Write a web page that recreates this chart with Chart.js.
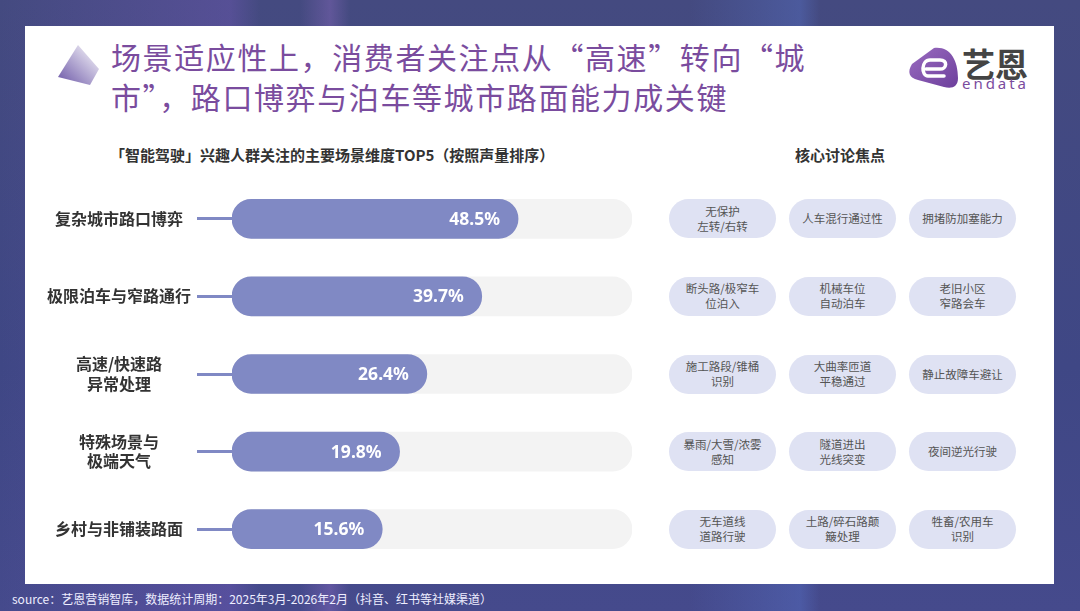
<!DOCTYPE html>
<html lang="zh">
<head>
<meta charset="UTF-8">
<script src="https://cdn.jsdelivr.net/npm/chart.js@4.4.0/dist/chart.umd.min.js"></script>
<title>场景维度TOP5</title>
<style>
    html, body { margin: 0; padding: 0; }
    body {
        width: 1080px; height: 611px; overflow: hidden; position: relative;
        font-family: "Noto Sans CJK SC", "Noto Sans", sans-serif;
        background:
            linear-gradient(90deg, rgba(255,255,255,0) 0, rgba(120,90,190,0.35) 230px, rgba(255,255,255,0) 260px,
                rgba(255,255,255,0) 300px, rgba(150,110,200,0.35) 330px, rgba(255,255,255,0) 350px,
                rgba(255,255,255,0) 690px, rgba(90,120,210,0.35) 800px, rgba(255,255,255,0) 820px),
            linear-gradient(180deg, #444a80 0%, #3f4785 60%, #454a8c 100%);
    }
    .card { position: absolute; left: 25px; top: 26px; width: 1029px; height: 558px; background: #fff; }
    .title {
        position: absolute; left: 111px; top: 36px; margin: 0;
        font-size: 30px; line-height: 40px; font-weight: 400; letter-spacing: 1.6px; color: #7a4c9e;
    }
    .sub { position: absolute; top: 144px; font-size: 15px; font-weight: 700; color: #333; white-space: nowrap; }
    .pill {
        position: absolute; width: 107px; height: 39px; border-radius: 20px; background: #dfe2f3;
        display: flex; align-items: center; justify-content: center; text-align: center;
        font-size: 11.5px; line-height: 15px; color: #555;
    }
    .source { position: absolute; left: 12px; top: 590px; font-size: 12px; color: #eef; white-space: nowrap; }
    #wrap { position: absolute; left: 0; top: 180px; width: 640px; height: 388px; }
</style>
</head>
<body>
<div class="card"></div>
<svg style="position:absolute;left:0;top:0" width="1080" height="120">
    <defs>
        <linearGradient id="gem" x1="0" y1="1" x2="1" y2="0">
            <stop offset="0" stop-color="#6a55a6"/>
            <stop offset="1" stop-color="#ffffff"/>
        </linearGradient>
        <linearGradient id="logo" x1="0" y1="0" x2="1" y2="1">
            <stop offset="0" stop-color="#9a6cc0"/>
            <stop offset="1" stop-color="#6d3f9c"/>
        </linearGradient>
    </defs>
    <polygon points="78,45 99,69 90,85 58,77" fill="url(#gem)"/>
    <path d="M934,48 C950,46 958,60 958,78 C958,87 952,89 944,87 L918,80 C909,78 907,72 912,64 Z" fill="url(#logo)"/>
    <path d="M944,76 L928,76 C921,76 921,60 930,60 L940,60 C948,60 947,69 940,69 L926,69" fill="none" stroke="#fff" stroke-width="3.5" stroke-linecap="round"/>
    <text x="962" y="77" font-size="33" font-weight="700" fill="#444" font-family="Noto Sans CJK SC">艺恩</text>
    <text x="962" y="89" font-size="15" fill="#7a4c9e" font-family="Noto Sans" textLength="64">endata</text>
</svg>
<h1 class="title">场景适应性上，消费者关注点从“高速”转向“城<br>市”，路口博弈与泊车等城市路面能力成关键</h1>
<div class="sub" style="left:110px">「智能驾驶」兴趣人群关注的主要场景维度TOP5（按照声量排序）</div>
<div class="sub" style="left:795px">核心讨论焦点</div>
<div id="wrap"><canvas id="container"></canvas></div>
<div id="pills"></div>
<div class="source">source：艺恩营销智库，数据统计周期：2025年3月-2026年2月（抖音、红书等社媒渠道）</div>

<script>
    const scenes = ['复杂城市路口博弈', '极限泊车与窄路通行', ['高速/快速路', '异常处理'], ['特殊场景与', '极端天气'], '乡村与非铺装路面'];
    const shares = [48.5, 39.7, 26.4, 19.8, 15.6];
    const focusCol1 = [['无保护', '左转/右转'], ['断头路/极窄车', '位泊入'], ['施工路段/锥桶', '识别'], ['暴雨/大雪/浓雾', '感知'], ['无车道线', '道路行驶']];
    const focusCol2 = [['人车混行通过性'], ['机械车位', '自动泊车'], ['大曲率匝道', '平稳通过'], ['隧道进出', '光线突变'], ['土路/碎石路颠', '簸处理']];
    const focusCol3 = [['拥堵防加塞能力'], ['老旧小区', '窄路会车'], ['静止故障车避让'], ['夜间逆光行驶'], ['牲畜/农用车', '识别']];

    const BAR_BASE = -20.8;
    const TRACK_END = 76.1;
    const barColor = '#8089c4';

    const valueLabels = {
        id: 'valueLabels',
        afterDatasetsDraw(chart) {
            const ctx = chart.ctx;
            const meta = chart.getDatasetMeta(1);
            ctx.save();
            ctx.fillStyle = '#fff';
            ctx.font = 'bold 17.5px "Noto Sans", sans-serif';
            ctx.textAlign = 'right';
            ctx.textBaseline = 'middle';
            meta.data.forEach((bar, i) => {
                ctx.fillText(shares[i].toFixed(1) + '%', bar.x - 18, bar.y + 1);
            });
            ctx.restore();
        }
    };

    const ctx = document.getElementById('container').getContext('2d');
    const chart = new Chart(ctx, {
        type: 'bar',
        data: {
            labels: scenes,
            datasets: [{
                data: scenes.map(() => TRACK_END),
                base: BAR_BASE,
                backgroundColor: '#f3f3f3',
                borderRadius: 20,
                borderSkipped: false,
                barThickness: 39,
                grouped: false,
                order: 2
            }, {
                data: shares,
                base: BAR_BASE,
                backgroundColor: barColor,
                borderRadius: 20,
                borderSkipped: false,
                barThickness: 39,
                grouped: false,
                order: 1
            }]
        },
        options: {
            indexAxis: 'y',
            responsive: true,
            maintainAspectRatio: false,
            animation: false,
            layout: { padding: { left: 0, right: 8, top: 0, bottom: 0 } },
            plugins: { legend: { display: false }, tooltip: { enabled: false } },
            scales: {
                x: { display: false, min: BAR_BASE, max: TRACK_END },
                y: {
                    afterFit: (scale) => {
                        scale.width = 232;
                        scale.paddingTop = 0;
                        scale.paddingBottom = 0;
                    },
                    border: { display: false },
                    grid: {
                        offset: false, drawOnChartArea: false, drawTicks: true,
                        tickLength: 35, tickColor: barColor, tickWidth: 3
                    },
                    ticks: {
                        padding: 6, color: '#333', crossAlign: 'center',
                        font: { family: '"Noto Sans CJK SC", sans-serif', size: 16, weight: 'bold', lineHeight: 1.2 }
                    }
                }
            }
        },
        plugins: [valueLabels]
    });

    // pills on the right, aligned to the chart's category rows
    const pills = document.getElementById('pills');
    const colLeft = [669, 789, 909];
    [focusCol1, focusCol2, focusCol3].forEach((col, c) => {
        col.forEach((lines, i) => {
            const y = 180 + chart.scales.y.getPixelForValue(i);
            const d = document.createElement('div');
            d.className = 'pill';
            d.style.left = colLeft[c] + 'px';
            d.style.top = (y - 19.5) + 'px';
            d.innerHTML = lines.join('<br>');
            pills.appendChild(d);
        });
    });
</script>
</body>
</html>
